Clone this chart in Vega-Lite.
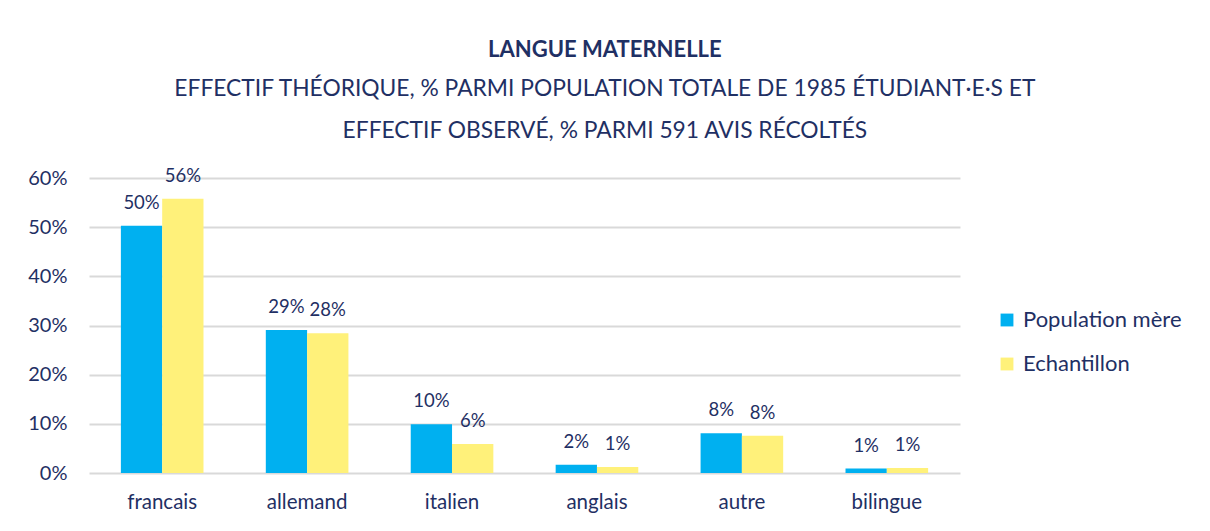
{
  "$schema": "https://vega.github.io/schema/vega-lite/v6.json",
  "width": 871,
  "height": 295,
  "autosize": "none",
  "padding": {"left": 89, "top": 178, "right": 250, "bottom": 58},
  "background": "white",
  "title": {
    "text": "LANGUE MATERNELLE",
    "subtitle": ["EFFECTIF THÉORIQUE, % PARMI POPULATION TOTALE DE 1985 ÉTUDIANT·E·S ET", "EFFECTIF OBSERVÉ, % PARMI 591 AVIS RÉCOLTÉS"],
    "anchor": "middle",
    "frame": "bounds",
    "dx": 0,
    "font": "Lato",
    "fontSize": 22,
    "fontWeight": "bold",
    "color": "#1F3064",
    "subtitleFont": "Lato",
    "subtitleFontSize": 22.8,
    "subtitleColor": "#1F3064",
    "subtitleLineHeight": 42,
    "subtitlePadding": 16,
    "offset": 23
  },
  "data": {
    "values": [
      {"langue": "francais", "serie": "Population mère", "valeur": 0.503},
      {"langue": "francais", "serie": "Echantillon", "valeur": 0.558},
      {"langue": "allemand", "serie": "Population mère", "valeur": 0.291},
      {"langue": "allemand", "serie": "Echantillon", "valeur": 0.284},
      {"langue": "italien", "serie": "Population mère", "valeur": 0.099},
      {"langue": "italien", "serie": "Echantillon", "valeur": 0.059},
      {"langue": "anglais", "serie": "Population mère", "valeur": 0.017},
      {"langue": "anglais", "serie": "Echantillon", "valeur": 0.012},
      {"langue": "autre", "serie": "Population mère", "valeur": 0.081},
      {"langue": "autre", "serie": "Echantillon", "valeur": 0.076},
      {"langue": "bilingue", "serie": "Population mère", "valeur": 0.009},
      {"langue": "bilingue", "serie": "Echantillon", "valeur": 0.010}
    ]
  },
  "encoding": {
    "x": {
      "field": "langue",
      "type": "nominal",
      "sort": ["francais", "allemand", "italien", "anglais", "autre", "bilingue"],
      "scale": {"paddingInner": 0.43, "paddingOuter": 0.22},
      "axis": {"title": null, "labelAngle": 0, "domain": false, "ticks": false, "labelPadding": 19, "labelFontSize": 20.5, "labelFont": "Lato", "labelColor": "#1F3064"}
    },
    "xOffset": {
      "field": "serie",
      "type": "nominal",
      "sort": ["Population mère", "Echantillon"],
      "scale": {"paddingInner": 0, "paddingOuter": 0}
    },
    "y": {
      "field": "valeur",
      "type": "quantitative",
      "scale": {"domain": [0, 0.6]},
      "axis": {"title": null, "format": ".0%", "values": [0, 0.1, 0.2, 0.3, 0.4, 0.5, 0.6], "domain": false, "ticks": false, "labelPadding": 22, "labelFontSize": 20, "labelFont": "Lato", "labelColor": "#1F3064", "grid": true, "gridColor": "#D9D9D9", "gridWidth": 2}
    }
  },
  "layer": [
    {
      "mark": {"type": "bar"},
      "encoding": {
        "color": {
          "field": "serie",
          "type": "nominal",
          "scale": {"domain": ["Population mère", "Echantillon"], "range": ["#00B0F0", "#FFF17A"]},
          "legend": {
            "title": null,
            "orient": "none",
            "legendX": 907,
            "legendY": 131,
            "symbolType": "square",
            "symbolSize": 165,
            "symbolStrokeWidth": 0,
            "labelFontSize": 22,
            "labelFont": "Lato",
            "labelColor": "#1F3064",
            "labelOffset": 5,
            "rowPadding": 22
          }
        }
      }
    },
    {
      "mark": {"type": "text", "baseline": "alphabetic", "dy": -17, "fontSize": 18.5, "font": "Lato", "color": "#1F3064"},
      "encoding": {
        "text": {"field": "valeur", "type": "quantitative", "format": ".0%"}
      }
    }
  ],
  "config": {"view": {"stroke": null}}
}
